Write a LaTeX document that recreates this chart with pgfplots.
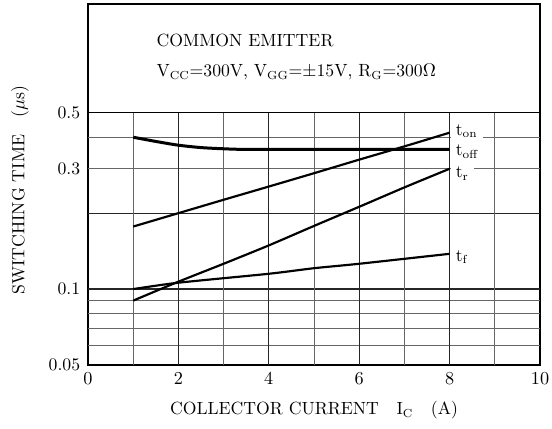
\documentclass[border=0pt]{standalone}
\usepackage{pgfplots}
\pgfplotsset{compat=1.18}
\begin{document}
\fontsize{10.6pt}{12.7pt}\selectfont
\begin{tikzpicture}
\begin{axis}[
 scale only axis, width=271.2pt, height=216.6pt,
 ymode=log, xmin=0, xmax=10, ymin=0.05, ymax=1.35,
 xtick={0,2,4,6,8,10},
 ytick={0.05,0.1,0.3,0.5}, yticklabels={0.05,0.1,0.3,0.5},
 minor ytick={}, major tick length=0pt, minor tick length=0pt,
 axis line style={line width=1.1pt},
 clip=false,
 xticklabel style={yshift=-1pt},
 yticklabel style={xshift=-1pt},
]
\coordinate (sw) at (rel axis cs:0,0);
\coordinate (ne) at (rel axis cs:1,1);
% horizontal grid
\pgfplotsinvokeforeach{0.06,0.07,0.08,0.09,0.3,0.4}{
  \draw[black!60, line width=0.45pt] (axis cs:0,#1) -- (axis cs:10,#1);}
\pgfplotsinvokeforeach{0.1,0.2}{
  \draw[black!85, line width=0.7pt] (axis cs:0,#1) -- (axis cs:10,#1);}
\draw[black, line width=0.8pt] (axis cs:0,0.5) -- (axis cs:10,0.5);
% curve labels with white background
\node[anchor=west, fill=white, inner xsep=3pt, inner ysep=1pt] at (axis cs:8.02,0.423) {t$_{\mathrm{on}}$};
\node[anchor=west, fill=white, inner xsep=3pt, inner ysep=1pt] at (axis cs:8.02,0.352) {t$_{\mathrm{off}}$};
\node[anchor=west, fill=white, inner xsep=3pt, inner ysep=1pt] at (axis cs:8.02,0.287) {t$_{\mathrm{r}}$};
\node[anchor=west, fill=white, inner xsep=3pt, inner ysep=1pt] at (axis cs:8.02,0.134) {t$_{\mathrm{f}}$};
% vertical grid
\pgfplotsinvokeforeach{1,3,5,7,9}{
  \draw[black!60, line width=0.45pt] (axis cs:#1,0.05) -- (axis cs:#1,0.5);}
\pgfplotsinvokeforeach{2,4,6,8}{
  \draw[black!85, line width=0.6pt] (axis cs:#1,0.05) -- (axis cs:#1,0.5);}
% data
\addplot[black, line width=1.8pt, smooth, tension=0.5] coordinates {
 (1,0.400) (1.5,0.385) (2,0.372) (2.5,0.364) (3,0.360) (3.5,0.358) (5,0.358) (8,0.358)};
\addplot[black, line width=1.3pt, smooth, tension=0.4] coordinates {
 (1,0.177) (2,0.200) (3,0.226) (4,0.255) (5,0.288) (6,0.326) (7,0.368) (8,0.417)};
\addplot[black, line width=1.3pt, smooth, tension=0.4] coordinates {
 (1,0.090) (2,0.107) (3,0.126) (4,0.149) (5,0.178) (6,0.212) (7,0.253) (8,0.300)};
\addplot[black, line width=1.3pt, smooth, tension=0.4] coordinates {
 (1,0.100) (2,0.106) (4,0.115) (5,0.121) (6,0.126) (8,0.138)};
% texts
\node[anchor=west] at (axis cs:1.38,0.97) {COMMON EMITTER};
\node[anchor=west] at (axis cs:1.38,0.725) {V$_{\mathrm{CC}}$=300V, V$_{\mathrm{GG}}$=$\pm$15V, R$_{\mathrm{G}}$=300$\Omega$};
\node[anchor=center] at ([yshift=-27pt]rel axis cs:0.5,0) {COLLECTOR CURRENT\quad I$_{\mathrm{C}}$\quad (A)};
\node[anchor=center, xshift=-40.8pt, rotate=90] at (rel axis cs:0,0.485) {SWITCHING TIME\quad($\mu$s)};
\end{axis}
\pgfresetboundingbox
\path ([shift={(-52.8pt,-37.8pt)}]sw) rectangle ([shift={(7.2pt,2.4pt)}]ne);
\end{tikzpicture}
\end{document}
